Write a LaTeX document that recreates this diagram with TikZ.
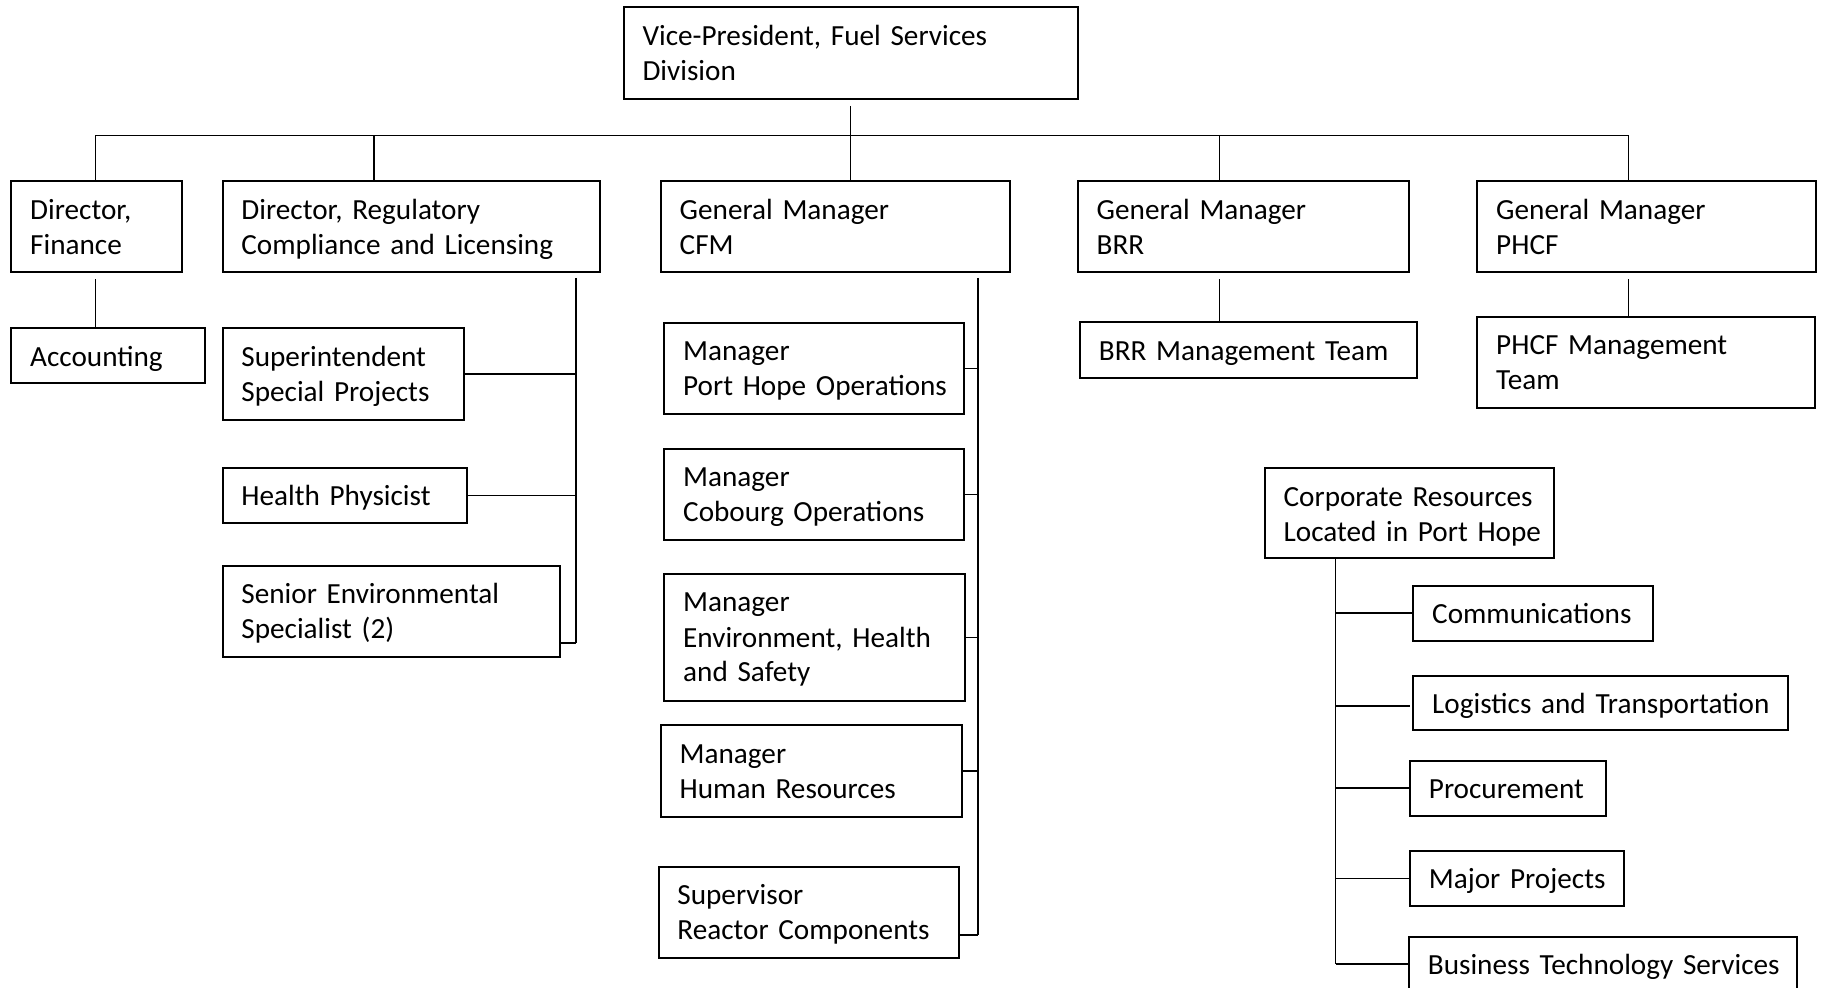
\documentclass[tikz,border=0pt]{standalone}
\usepackage{fontspec}
\setmainfont{Carlito}
\usetikzlibrary{fit,calc}
\tikzset{
  orgbox/.style={draw, line width=1pt, inner sep=0pt},
  orgtxt/.style={anchor=base west, inner sep=0pt, text width=260pt, align=left,
    font=\fontsize{14.6pt}{17.5pt}\selectfont},
  link/.style={line width=0.75pt},
}
\newcommand\orgbox[6]{%
  \coordinate (#1-nw) at (#2,#3);
  \coordinate (#1-se) at (#4,#5);
  \node[orgbox, fit=(#1-nw)(#1-se)] (#1) {};
  \node[orgtxt] (#1-t) at ($(#1.north west)+(19.5,39)$) {#6};
}
\begin{document}
\begin{tikzpicture}[x=0.5pt,y=-0.5pt]
\useasboundingbox (0,0) rectangle (1821,988);
\clip (0,0) rectangle (1821,988);
% top
\orgbox{vp}{623.6}{7.3}{1077.8}{99}{Vice-President, Fuel Services\\Division}
% level 2
\orgbox{fin}{11.3}{181.5}{181.5}{271.7}{Director,\\Finance}
\orgbox{reg}{222.5}{181.5}{600.4}{271.7}{Director, Regulatory\\Compliance and Licensing}
\orgbox{cfm}{660.8}{181.5}{1009.6}{271.7}{General Manager\\CFM}
\orgbox{brr}{1077.8}{181.5}{1408.8}{271.7}{General Manager\\BRR}
\orgbox{phcf}{1477.3}{181.5}{1816.4}{271.7}{General Manager\\PHCF}
% finance
\orgbox{acc}{11.3}{328.3}{205}{383.5}{Accounting}
% regulatory
\orgbox{sup}{222.5}{328.3}{464.3}{420}{Superintendent\\Special Projects}
\orgbox{hp}{222.5}{467.7}{467}{523.3}{Health Physicist}
\orgbox{sen}{222.5}{565.7}{559.8}{656.7}{Senior Environmental\\Specialist (2)}
% CFM
\orgbox{ph}{664.3}{322.7}{964}{414.3}{Manager\\Port Hope Operations}
\orgbox{cob}{664.3}{449}{964}{540}{Manager\\Cobourg Operations}
\orgbox{ehs}{664.3}{574}{965}{700.7}{Manager\\Environment, Health\\and Safety}
\orgbox{hr}{660.8}{725.3}{961.6}{816.7}{Manager\\Human Resources}
\orgbox{rc}{658.5}{866.7}{959.3}{957.7}{Supervisor\\Reactor Components}
% BRR / PHCF
\orgbox{brrm}{1080}{322.3}{1416.9}{377.7}{BRR Management Team}
\orgbox{phcfm}{1477.3}{316.7}{1815.3}{407.7}{PHCF Management\\Team}
% corporate
\orgbox{corp}{1264.7}{468.3}{1554}{558.3}{Corporate Resources\\Located in Port Hope}
\orgbox{comm}{1413.3}{585.7}{1653.3}{640.7}{Communications}
\orgbox{log}{1413.3}{675.7}{1788.2}{730}{Logistics and Transportation}
\orgbox{proc}{1410}{760.7}{1606}{815.7}{Procurement}
\orgbox{maj}{1410}{850.7}{1623.6}{906}{Major Projects}
\orgbox{bts}{1409}{936.7}{1797}{1010}{Business Technology Services}

% connectors: top bus
\coordinate (d-fin) at (95.7,135.3);
\coordinate (d-reg) at (374,135.3);
\coordinate (d-cfm) at (850.3,135.3);
\coordinate (d-brr) at (1219.5,135.3);
\coordinate (d-phcf) at (1628.3,135.3);
\draw[link] ($(vp.south -| d-cfm)+(0,6)$) -- (d-cfm |- cfm.north);
\draw[link] (d-fin) -- (d-phcf);
\draw[link] (d-fin) -- (d-fin |- fin.north);
\draw[link] (d-reg) -- (d-reg |- reg.north);
\draw[link] (d-brr) -- (d-brr |- brr.north);
\draw[link] (d-phcf) -- (d-phcf |- phcf.north);
% finance, brr, phcf
\draw[link] ($(d-fin |- fin.south)+(0,6.5)$) -- (d-fin |- acc.north);
\draw[link] ($(d-brr |- brr.south)+(0,6.5)$) -- (d-brr |- brrm.north);
\draw[link] ($(d-phcf |- phcf.south)+(0,6.5)$) -- (d-phcf |- phcfm.north);
% regulatory
\coordinate (reg-v) at (576,278);
\coordinate (sen-sp) at ($(sen.south east)+(0,-14.7)$);
\draw[link] (reg-v) -- (reg-v |- sen-sp);
\draw[link] (sup.east) -- (sup.east -| reg-v);
\draw[link] (hp.east) -- (hp.east -| reg-v);
\draw[link] (sen-sp) -- (sen-sp -| reg-v);
% CFM
\coordinate (cfm-v) at (978,278);
\coordinate (rc-sp) at ($(rc.south east)+(0,-23.7)$);
\draw[link] (cfm-v) -- (cfm-v |- rc-sp);
\draw[link] (ph.east) -- (ph.east -| cfm-v);
\draw[link] (cob.east) -- (cob.east -| cfm-v);
\draw[link] (ehs.east) -- (ehs.east -| cfm-v);
\draw[link] (hr.east) -- (hr.east -| cfm-v);
\draw[link] (rc-sp) -- (rc-sp -| cfm-v);
% corporate
\coordinate (corp-v) at (1335.7,558.3);
\coordinate (log-sp) at (1410,706);
\coordinate (bts-sp) at (1409,964);
\draw[link] (corp-v) -- (corp-v |- bts-sp);
\draw[link] (corp-v |- comm.west) -- (comm.west);
\draw[link] (corp-v |- log-sp) -- (log-sp);
\draw[link] (corp-v |- proc.west) -- (proc.west);
\draw[link] (corp-v |- maj.west) -- (maj.west);
\draw[link] (corp-v |- bts-sp) -- (bts-sp);
\end{tikzpicture}
\end{document}
